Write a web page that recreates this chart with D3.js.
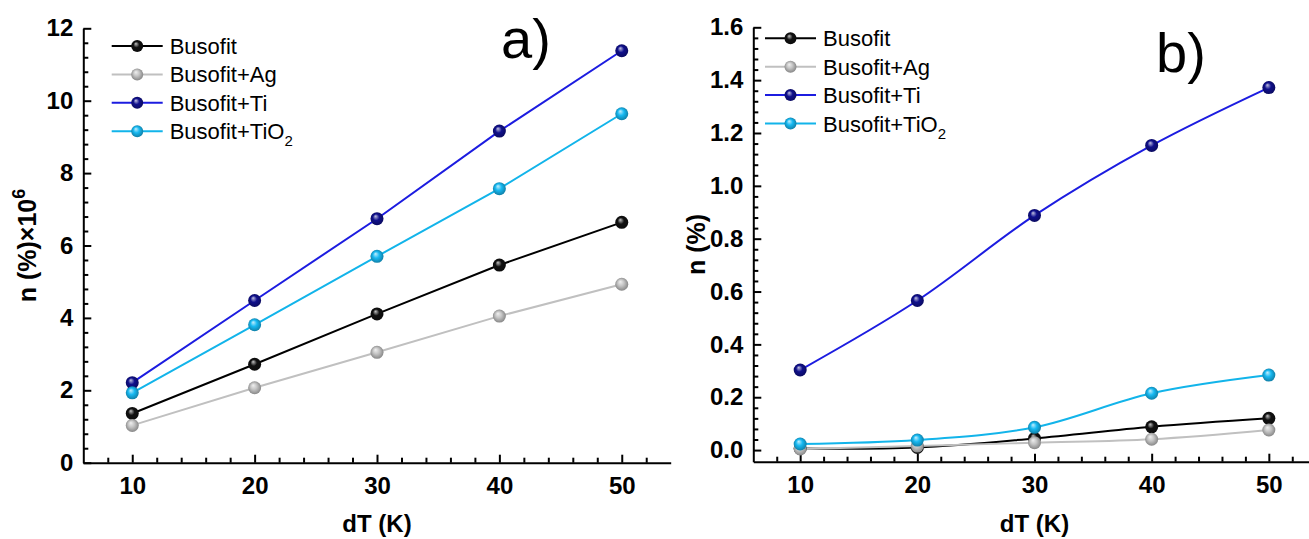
<!DOCTYPE html>
<html>
<head>
<meta charset="utf-8">
<script src="https://cdn.jsdelivr.net/npm/d3@7"></script>
<style>
  body { margin: 0; background: #fff; }
  svg { display: block; font-family: "Liberation Sans", Arial, sans-serif; }
  .axis path, .axis line { stroke: #000; stroke-width: 2; }
  .axis text { font-size: 24px; font-weight: bold; fill: #000; }
</style>
</head>
<body>
<svg id="chart" width="1309" height="539"></svg>
<script>
// data
const dT = [10, 20, 30, 40, 50];
const seriesNames = ["Busofit", "Busofit+Ag", "Busofit+Ti", "Busofit+TiO2"];

// panel a) n (%) x 10^6
const busofitA = [1.36, 2.72, 4.11, 5.46, 6.64];
const agA = [1.03, 2.07, 3.05, 4.05, 4.93];
const tiA = [2.21, 4.48, 6.74, 9.16, 11.38];
const tio2A = [1.93, 3.81, 5.70, 7.57, 9.64];

// panel b) n (%)
const busofitB = [0.006, 0.010, 0.044, 0.088, 0.120];
const agB = [0.004, 0.015, 0.028, 0.041, 0.076];
const tiB = [0.303, 0.566, 0.888, 1.153, 1.372];
const tio2B = [0.023, 0.038, 0.086, 0.215, 0.284];

const xTicks = [10, 20, 30, 40, 50];
const yTicksA = [0, 2, 4, 6, 8, 10, 12];
const yTicksB = [0.0, 0.2, 0.4, 0.6, 0.8, 1.0, 1.2, 1.4, 1.6];

// styles
const lineColors = ["#000000", "#c0c0c0", "#1c1ce0", "#12b4ea"];
const dotColors = ["#111111", "#c4c4c4", "#10108c", "#17b9f2"];

const svg = d3.select("#chart");

// shaded sphere markers
const defs = svg.append("defs");
dotColors.forEach(function (c, i) {
  const g = defs.append("radialGradient")
    .attr("id", "ball" + i)
    .attr("cx", "50%").attr("cy", "50%").attr("r", "55%")
    .attr("fx", "38%").attr("fy", "30%");
  g.append("stop").attr("offset", "0%").attr("stop-color", d3.interpolateRgb(c, "#fff")(0.75));
  g.append("stop").attr("offset", "45%").attr("stop-color", c);
  g.append("stop").attr("offset", "100%").attr("stop-color", d3.interpolateRgb(c, "#000")(0.35));
});

function drawPanel(cfg) {
  const x = d3.scaleLinear().domain([6, 54]).range(cfg.xRange);
  const y = d3.scaleLinear().domain(cfg.yDomain).range(cfg.yRange);
  const g = svg.append("g");
  const y0 = cfg.yRange[0];
  const x0 = cfg.xRange[0];

  // x axis
  g.append("g").attr("class", "axis")
    .attr("transform", "translate(0," + y0 + ")")
    .call(d3.axisBottom(x).tickValues(xTicks).tickSizeInner(-8).tickSizeOuter(0).tickPadding(14))
    .call(function (a) { a.selectAll("text").attr("dy", "0.71em"); });
  g.append("g").attr("class", "axis")
    .attr("transform", "translate(0," + y0 + ")")
    .call(d3.axisBottom(x).tickValues(d3.range(8, 54, 2).filter(function (v) { return v % 10 != 0; }))
      .tickSizeInner(-5).tickSizeOuter(0).tickFormat(""))
    .call(function (a) { a.select(".domain").remove(); });

  // y axis
  g.append("g").attr("class", "axis")
    .attr("transform", "translate(" + x0 + ",0)")
    .call(d3.axisLeft(y).tickValues(cfg.yTicks).tickSizeInner(-8).tickSizeOuter(0)
      .tickPadding(10).tickFormat(cfg.yFormat));
  g.append("g").attr("class", "axis")
    .attr("transform", "translate(" + x0 + ",0)")
    .call(d3.axisLeft(y).tickValues(cfg.yMinor).tickSizeInner(-5).tickSizeOuter(0).tickFormat(""))
    .call(function (a) { a.select(".domain").remove(); });

  // lines + markers
  const line = d3.line()
    .x(function (d, i) { return x(dT[i]); })
    .y(function (d) { return y(d); })
    .curve(cfg.curve);
  cfg.series.forEach(function (vals, s) {
    g.append("path")
      .attr("d", line(vals))
      .attr("fill", "none")
      .attr("stroke", lineColors[s])
      .attr("stroke-width", 2);
  });
  cfg.series.forEach(function (vals, s) {
    g.selectAll(".dot" + s)
      .data(vals)
      .enter().append("circle")
      .attr("cx", function (d, i) { return x(dT[i]); })
      .attr("cy", function (d) { return y(d); })
      .attr("r", 6.5)
      .attr("fill", "url(#ball" + s + ")");
  });

  // axis titles
  g.append("text")
    .attr("x", (cfg.xRange[0] + cfg.xRange[1]) / 2)
    .attr("y", 532)
    .attr("text-anchor", "middle")
    .attr("font-size", 24).attr("font-weight", "bold")
    .text("dT (K)");
  const yt = g.append("text")
    .attr("transform", "translate(" + cfg.yTitleX + "," + ((cfg.yRange[0] + cfg.yRange[1]) / 2) + ") rotate(-90)")
    .attr("text-anchor", "middle")
    .attr("font-size", 25).attr("font-weight", "bold");
  yt.append("tspan").text(cfg.yTitle);
  if (cfg.yTitleSup) {
    yt.append("tspan").attr("font-size", 18).attr("dy", -11).text(cfg.yTitleSup);
  }

  // legend
  const lg = g.append("g").attr("transform", "translate(" + cfg.legend[0] + "," + cfg.legend[1] + ")");
  seriesNames.forEach(function (name, s) {
    const row = lg.append("g").attr("transform", "translate(0," + (s * 28.4) + ")");
    row.append("line").attr("x1", 0).attr("x2", 51).attr("y1", 0).attr("y2", 0)
      .attr("stroke", lineColors[s]).attr("stroke-width", 2);
    row.append("circle").attr("cx", 25.5).attr("cy", 0).attr("r", 6)
      .attr("fill", "url(#ball" + s + ")");
    const t = row.append("text").attr("x", 58).attr("y", 8).attr("font-size", 22);
    if (name == "Busofit+TiO2") {
      t.append("tspan").text("Busofit+TiO");
      t.append("tspan").attr("font-size", 15).attr("dy", 7).text("2");
    } else {
      t.text(name);
    }
  });

  // panel label
  g.append("text")
    .attr("x", cfg.tag[0]).attr("y", cfg.tag[1])
    .attr("font-size", 56)
    .text(cfg.tagText);
}

drawPanel({
  xRange: [83.3, 670.7],
  yDomain: [0, 12],
  yRange: [462.7, 28.3],
  yTicks: yTicksA,
  yMinor: d3.range(0.4, 12, 0.4).filter(function (v) { return Math.abs(v / 2 - Math.round(v / 2)) > 0.01; }),
  yFormat: d3.format("d"),
  yTitle: "n (%)×10",
  yTitleSup: "6",
  yTitleX: 36,
  curve: d3.curveLinear,
  series: [busofitA, agA, tiA, tio2A],
  legend: [111.7, 46],
  tag: [501, 58],
  tagText: "a)"
});

drawPanel({
  xRange: [753.3, 1315.7],
  yDomain: [-0.044, 1.6],
  yRange: [461.7, 27.3],
  yTicks: yTicksB,
  yMinor: d3.range(0.04, 1.6, 0.04).filter(function (v) { return Math.abs(v / 0.2 - Math.round(v / 0.2)) > 0.01; }),
  yFormat: d3.format(".1f"),
  yTitle: "n (%)",
  yTitleSup: null,
  yTitleX: 705,
  curve: d3.curveCatmullRom.alpha(0.5),
  series: [busofitB, agB, tiB, tio2B],
  legend: [765, 38.3],
  tag: [1156, 72],
  tagText: "b)"
});
</script>
</body>
</html>
